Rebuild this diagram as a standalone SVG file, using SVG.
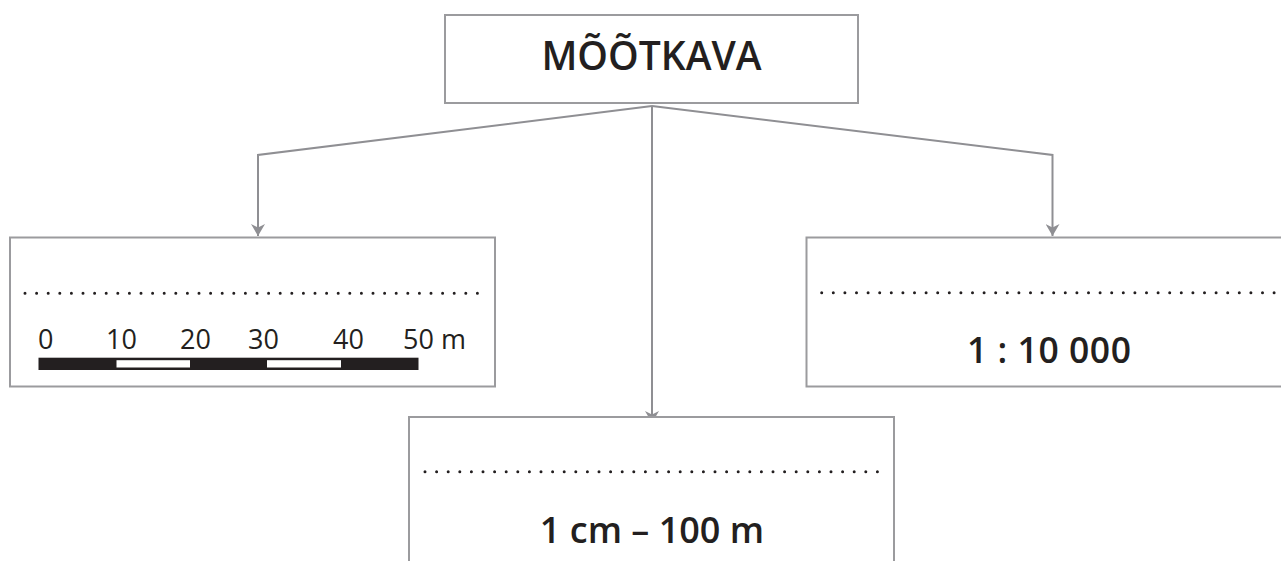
<svg xmlns="http://www.w3.org/2000/svg" width="1281" height="561" viewBox="0 0 1281 561">
<style>
.box{fill:#fff;stroke:#9b9b9e;stroke-width:2}
.conn{fill:none;stroke:#8f8f93;stroke-width:2}
.dots{fill:none;stroke:#231f20;stroke-width:3;stroke-linecap:round;stroke-dasharray:0 11.6}
.t{font-family:"Open Sans","Liberation Sans",sans-serif;fill:#231f20}
.b{font-weight:600}
</style>
<defs>
<marker id="arr" viewBox="0 0 12 14" refX="12" refY="7" markerWidth="12" markerHeight="14" markerUnits="userSpaceOnUse" orient="auto">
<path d="M0,0 L12,7 L0,14 L3.5,7 Z" fill="#8f8f93"/>
</marker>
</defs>
<rect width="1281" height="561" fill="#fff"/>
<g id="connectors">
<polyline class="conn" points="652,106 258,155 258,236" marker-end="url(#arr)"/>
<polyline class="conn" points="652,106 1052.5,155 1052.5,236" marker-end="url(#arr)"/>
<line class="conn" x1="652" y1="106" x2="652" y2="423" marker-end="url(#arr)"/>
</g>
<g id="node-top">
<rect class="box" x="445" y="15" width="413" height="88"/>
<text class="t b" x="651.5" y="70" font-size="39" text-anchor="middle">MÕÕTKAVA</text>
</g>
<g id="node-left">
<rect class="box" x="10" y="237.5" width="485" height="149"/>
<line class="dots" x1="25" y1="293.3" x2="479" y2="293.3"/>
<g class="t" font-size="27">
<text x="38" y="349">0</text>
<text x="106" y="349">10</text>
<text x="180" y="349">20</text>
<text x="248" y="349">30</text>
<text x="333" y="349">40</text>
<text x="403" y="349">50 m</text>
</g>
<rect x="38.5" y="357.7" width="380" height="12.3" fill="#231f20"/>
<rect x="116.5" y="360.2" width="73.5" height="7.3" fill="#fff"/>
<rect x="267" y="360.2" width="74" height="7.3" fill="#fff"/>
</g>
<g id="node-right">
<rect class="box" x="806.5" y="237.5" width="485" height="149"/>
<line class="dots" x1="821.7" y1="292.7" x2="1281" y2="292.7"/>
<text class="t b" x="1049" y="363.3" font-size="35.5" text-anchor="middle" textLength="164" lengthAdjust="spacing">1 : 10 000</text>
</g>
<g id="node-middle">
<rect class="box" x="409" y="417" width="485" height="160"/>
<line class="dots" x1="425" y1="471.7" x2="879" y2="471.7"/>
<text class="t b" x="652" y="542.7" font-size="36" text-anchor="middle">1 cm – 100 m</text>
</g>
</svg>
